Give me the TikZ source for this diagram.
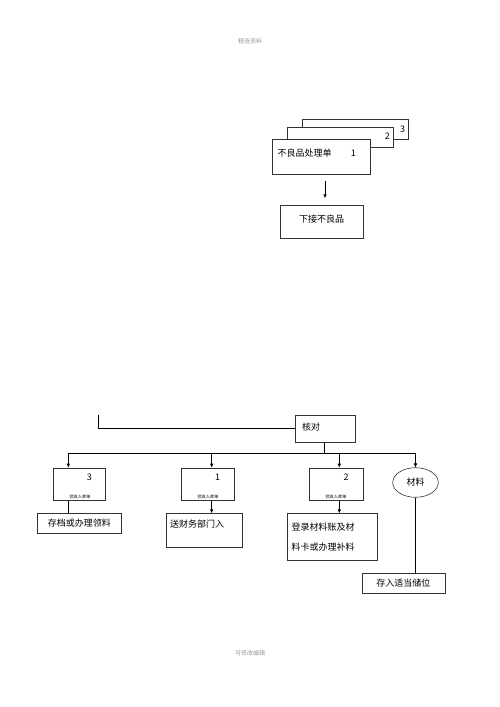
\documentclass[tikz,border=0pt]{standalone}
\usepackage{fontspec}
\setmainfont{Noto Sans CJK SC}
\usetikzlibrary{arrows.meta}
\usetikzlibrary{shapes.geometric}

\begin{document}
\begin{tikzpicture}[x=1pt,y=1pt,yscale=-1,xscale=1,
  box/.style={draw=black!80, line width=0.6pt, fill=white, rectangle, inner sep=0pt, anchor=north west},
  lbl/.style={font=\fontsize{9}{10}\selectfont, inner sep=0pt},
  tiny/.style={font=\fontsize{4.2}{5}\selectfont, inner sep=0pt},
  pagetxt/.style={font=\fontsize{6}{7}\selectfont, text=black!40, inner sep=0pt},
  tip/.style={-{Latex[length=4pt,width=3.6pt]}, line width=0.6pt},
  wire/.style={line width=0.6pt}]
\useasboundingbox (0,0) rectangle (500,707);

% Text Node
\node[pagetxt] (head) at (250,41) {精选资料};
\node[pagetxt] (foot) at (250,653) {可修改编辑};

%Shape: Rectangle [stacked forms]
\node[box, minimum width=106.3, minimum height=19.7] (formc) at (301.7,119.3) {};
\node[box, minimum width=106.6, minimum height=20] (formb) at (286.7,126.7) {};
\node[box, minimum width=98.3, minimum height=35] (forma) at (271.7,139.3) {};
\node[box, minimum width=83.3, minimum height=33.3] (reject) at (280,205) {};

% Text Node
\node[lbl] at (402.7,129.3) {3};
\node[lbl] at (387.3,136) {2};
\node[lbl, anchor=west] at (277.5,153.3) {不良品处理单};
\node[lbl] at (353.3,153.3) {1};
\node[lbl] at (321.7,219.3) {下接不良品};

%Straight Lines
\draw[tip, shorten <=5.7pt, shorten >=6.7pt] (forma.south -| 325,0) -- (reject.north -| 325,0);

%Shape: Rectangle [check]
\node[box, minimum width=60, minimum height=26.7] (check) at (295,415) {};
\node[lbl, anchor=west] at (302,426.7) {核对};

%Shape: Rectangle [receipts]
\node[box, minimum width=52.3, minimum height=32.3] (rcpc) at (52.7,467.7) {};
\node[box, minimum width=53.3, minimum height=32.3] (rcpa) at (181,467.7) {};
\node[box, minimum width=53.4, minimum height=32.3] (rcpb) at (309.3,467.7) {};
\node[lbl] at (89.3,477.3) {3};
\node[lbl] at (217.7,477.7) {1};
\node[lbl] at (346,477.7) {2};
\node[tiny] at (80,496.5) {验收入库单};
\node[tiny] at (208,496.5) {验收入库单};
\node[tiny] at (336,496.5) {验收入库单};

%Shape: Ellipse
\node[draw=black!80, line width=0.6pt, ellipse, minimum width=45.6, minimum height=29.6, inner sep=0pt] (mat) at (415.5,482.5) {};
\node[lbl] at (415.5,482.5) {材料};

%Shape: Rectangle [results]
\node[box, minimum width=84, minimum height=20] (file) at (37,513.3) {};
\node[lbl] at (79.3,523.3) {存档或办理领料};
\node[box, minimum width=75.7, minimum height=33.4] (fin) at (166,513.3) {};
\node[lbl, anchor=west] at (170,524) {送财务部门入};
\node[box, minimum width=90.6, minimum height=46.7] (ledger) at (286.7,513.3) {};
\node[lbl, anchor=west] at (291.5,526.7) {登录材料账及材};
\node[lbl, anchor=west] at (291.5,546.7) {料卡或办理补料};
\node[box, minimum width=83.3, minimum height=20] (store) at (361.7,572.7) {};
\node[lbl] at (403.3,583.3) {存入适当储位};

%Straight Lines [feed into check]
\coordinate (feed) at (98.3,415);
\draw[wire] (feed) |- (check.west);

%Straight Lines [distribution bar]
\coordinate (barl) at (68.3,453.3);
\coordinate (barr) at (415.5,453.3);
\draw[wire] (check.south -| 324.3,0) -- (324.3,453.3);
\draw[wire] (barl) -- (barr);
\draw[tip] (barl) -- (rcpc.north -| barl);
\draw[tip] (211.7,453.3) -- (rcpa.north -| 211.7,0);
\draw[tip] (339.3,453.3) -- (rcpb.north -| 339.3,0);
\draw[tip] (barr) -- (mat.north);

%Straight Lines [down to results]
\draw[wire] (rcpc.south -| 68.3,0) -- (file.north -| 68.3,0);
\draw[tip] (rcpa.south -| 211.7,0) -- (fin.north -| 211.7,0);
\draw[tip] (rcpb.south -| 339.3,0) -- (ledger.north -| 339.3,0);
\draw[wire] (mat.south) -- (store.north -| mat.south);

\end{tikzpicture}
\end{document}
